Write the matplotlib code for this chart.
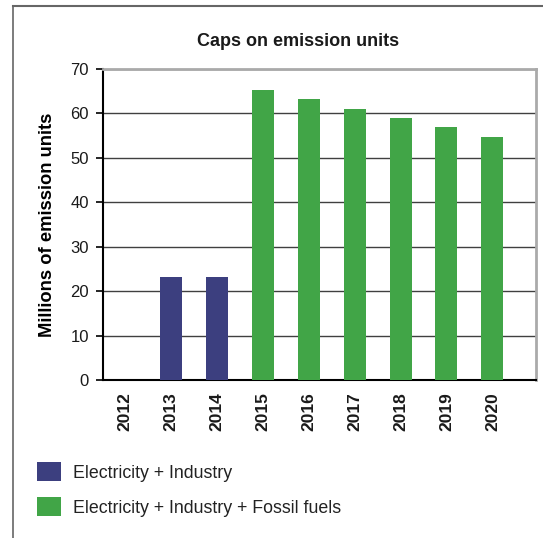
import matplotlib
matplotlib.use("Agg")
import matplotlib.pyplot as plt
from matplotlib.patches import Patch
from matplotlib.lines import Line2D

years = ["2012", "2013", "2014", "2015", "2016", "2017", "2018", "2019", "2020"]
elec_industry = [0, 23.2, 23.2, 0, 0, 0, 0, 0, 0]
elec_industry_fossil = [0, 0, 0, 65.3, 63.2, 61.1, 58.96, 56.85, 54.74]
legend_labels = ["Electricity + Industry", "Electricity + Industry + Fossil fuels"]
colors = ["#3c3f7f", "#41a547"]

plt.rcParams['font.family'] = ['Liberation Sans', 'DejaVu Sans']

W, H = 543, 538
fig = plt.figure(figsize=(W/100, H/100), dpi=100)
ax = fig.add_axes([103/W, 1-380/H, (536-103)/W, (380-69)/H])

x = list(range(len(years)))
ax.bar(x, elec_industry, width=0.48, color=colors[0], zorder=3)
ax.bar(x, elec_industry_fossil, width=0.48, color=colors[1], zorder=3)

ax.set_xlim(-0.48, 8.95)
ax.set_ylim(0, 70)
ax.set_yticks(range(0, 71, 10))
ax.yaxis.grid(True, color='#404040', linewidth=1.0, zorder=1)
ax.set_axisbelow(True)
ax.set_xticks(x)
ax.set_xticklabels(years, rotation=90, fontweight='bold', fontsize=12.5, color='#1a1a1a')
ax.tick_params(axis='x', length=0, pad=9)
ax.tick_params(axis='y', length=5, width=1.2, labelsize=12, labelcolor='#1a1a1a', pad=5)
for side in ['left', 'bottom']:
    ax.spines[side].set_color('black')
    ax.spines[side].set_linewidth(1.5)
for side in ['top', 'right']:
    ax.spines[side].set_color('#aaaaaa')
    ax.spines[side].set_linewidth(2)

ax.set_ylabel("Millions of emission units", fontweight='bold', fontsize=13.2)
ax.yaxis.set_label_coords(-(103-56)/(536-103), 0.5)

fig.text(298/W, 1-41/H, "Caps on emission units", ha='center', va='center',
         fontweight='bold', fontsize=13, color='#1a1a1a')

handles = [Patch(facecolor=c, edgecolor='none') for c in colors]
fig.legend(handles, legend_labels, loc='upper left', bbox_to_anchor=(30/W, 1-455/H),
           frameon=False, fontsize=12.8, handlelength=1.35, handleheight=1.3,
           handletextpad=0.65, labelspacing=0.85, labelcolor='#222222',
           borderaxespad=0)

fig.add_artist(Line2D([13/W, 13/W], [0, 1-6/H], color='#666666', linewidth=1.2))
fig.add_artist(Line2D([13/W, 1], [1-6/H, 1-6/H], color='#666666', linewidth=1.5))

fig.savefig("out.png", dpi=100)
